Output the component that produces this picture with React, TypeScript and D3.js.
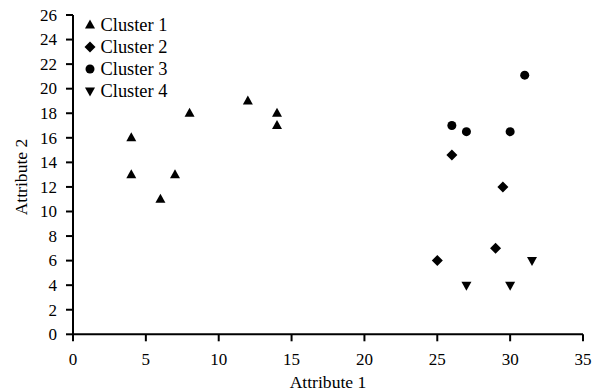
import React from 'react';
import * as d3 from 'd3';

const clusterNames = ['Cluster 1', 'Cluster 2', 'Cluster 3', 'Cluster 4'];
const cluster1 = [[4, 16], [4, 13], [6, 11], [7, 13], [8, 18], [12, 19], [14, 18], [14, 17]];
const cluster2 = [[26, 14.6], [29.5, 12], [29, 7], [25, 6]];
const cluster3 = [[31, 21.1], [26, 17], [27, 16.5], [30, 16.5]];
const cluster4 = [[31.5, 6], [27, 4], [30, 4]];
const xTicks = [0, 5, 10, 15, 20, 25, 30, 35];
const yTicks = [0, 2, 4, 6, 8, 10, 12, 14, 16, 18, 20, 22, 24, 26];

const W = 595;
const H = 392;
const font = "'Liberation Serif', 'DejaVu Serif', serif";

// marker paths, centred on 0,0
const marker = (k: number) => {
  if (k === 0) return 'M0,-5.5L5,3.5L-5,3.5Z';
  if (k === 1) return 'M0,-5.5L5.5,0L0,5.5L-5.5,0Z';
  if (k === 2) return d3.symbol(d3.symbolCircle, 64)() as string;
  return 'M0,5.5L5,-3.5L-5,-3.5Z';
};

export default function App() {
  const x = d3.scaleLinear().domain([0, 35]).range([73, 583]);
  const y = d3.scaleLinear().domain([0, 26]).range([334.3, 15]);
  const series = [cluster1, cluster2, cluster3, cluster4];

  return (
    <svg width={W} height={H} style={{ display: 'block', position: 'absolute', left: 0, top: 0, background: '#fff', fontFamily: font }}>
      <rect width={W} height={H} fill="#fff" />
      {/* axes */}
      <line x1={x(0)} x2={x(35)} y1={y(0)} y2={y(0)} stroke="#000" strokeWidth={2} />
      <line x1={x(0)} x2={x(0)} y1={y(0)} y2={y(26)} stroke="#000" strokeWidth={2} />
      {xTicks.map(t => (
        <g key={'x' + t}>
          <line x1={x(t)} x2={x(t)} y1={y(0)} y2={y(0) + 7} stroke="#000" strokeWidth={2} />
          <text x={x(t)} y={365} textAnchor="middle" fontSize={17}>{t}</text>
        </g>
      ))}
      {yTicks.map(t => (
        <g key={'y' + t}>
          <line x1={x(0) - 7} x2={x(0)} y1={y(t)} y2={y(t)} stroke="#000" strokeWidth={2} />
          <text x={57} y={y(t)} dy="0.34em" textAnchor="end" fontSize={17}>{t}</text>
        </g>
      ))}
      <text x={(x(0) + x(35)) / 2} y={388} textAnchor="middle" fontSize={17.6}>Attribute 1</text>
      <text transform={`translate(26.5,177) rotate(-90)`} textAnchor="middle" fontSize={17.6}>Attribute 2</text>

      {/* points */}
      {series.map((pts, k) =>
        pts.map((p, i) => (
          <path key={k + '-' + i} d={marker(k)} transform={`translate(${x(p[0])},${y(p[1])})`} fill="#000" />
        ))
      )}

      {/* legend */}
      {clusterNames.map((name, k) => (
        <g key={name} transform={`translate(90,${25 + k * 22})`}>
          <path d={marker(k)} fill="#000" />
          <text x={10.5} y={0} dy="0.35em" fontSize={18.4}>{name}</text>
        </g>
      ))}
    </svg>
  );
}
